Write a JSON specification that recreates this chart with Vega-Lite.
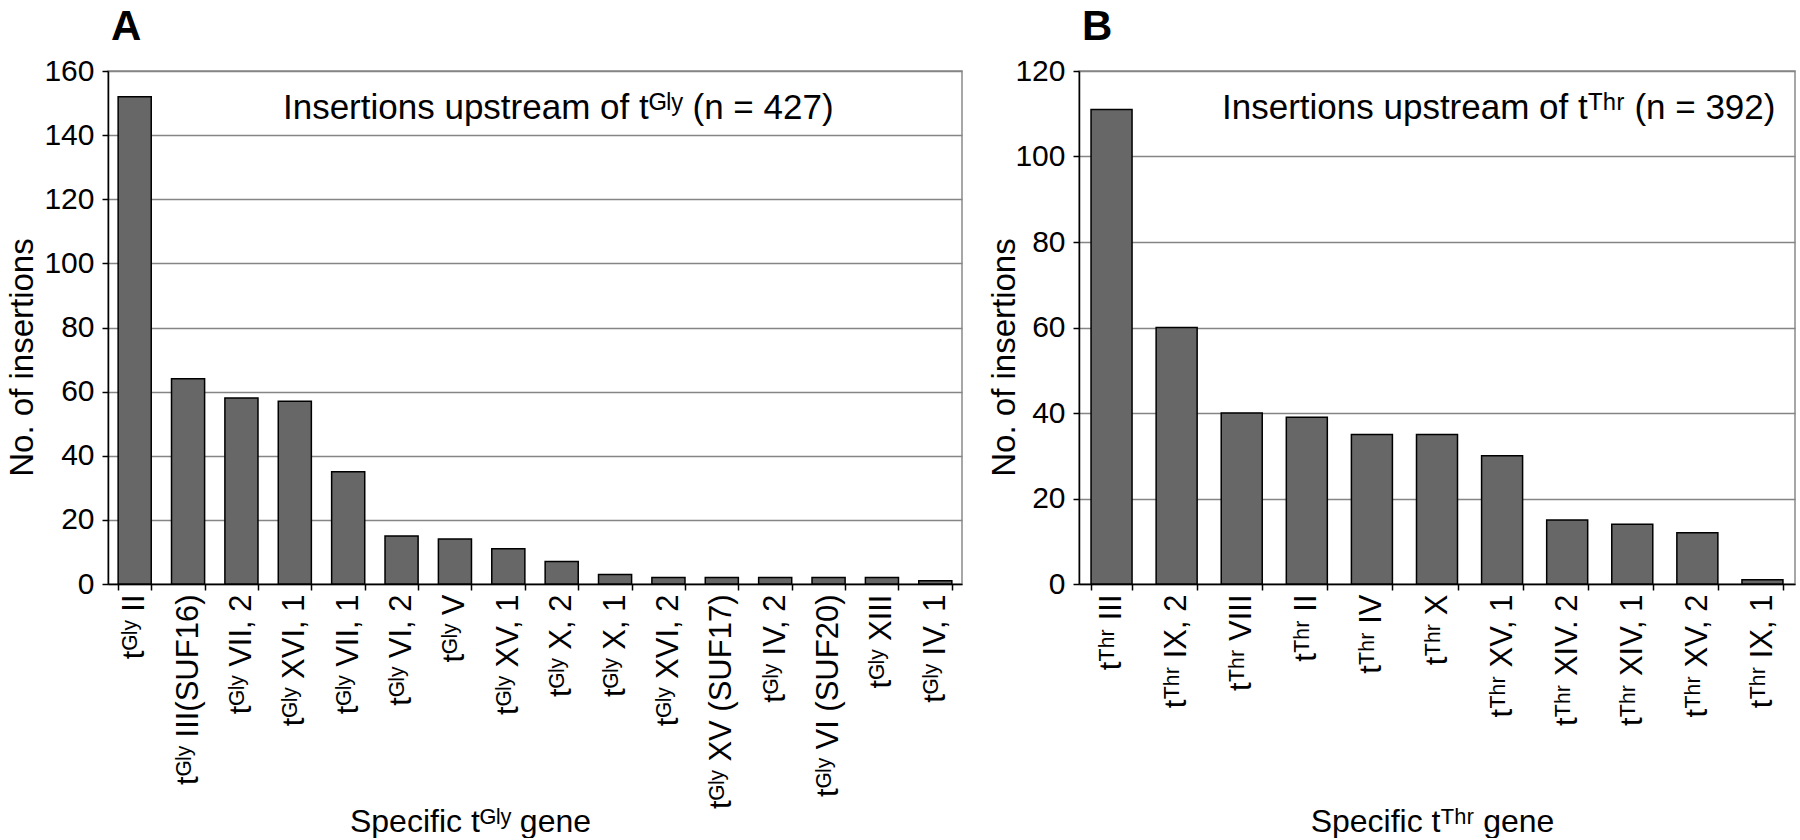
{
  "$schema": "https://vega.github.io/schema/vega-lite/v6.json",
  "background": "white",
  "padding": {"left": 5, "top": 5, "right": 5, "bottom": 0},
  "datasets": {
    "gly": [
      {"gene": "tᴳˡʸ II", "count": 152},
      {"gene": "tᴳˡʸ III(SUF16)", "count": 64},
      {"gene": "tᴳˡʸ VII, 2", "count": 58},
      {"gene": "tᴳˡʸ XVI, 1", "count": 57},
      {"gene": "tᴳˡʸ VII, 1", "count": 35},
      {"gene": "tᴳˡʸ VI, 2", "count": 15},
      {"gene": "tᴳˡʸ V", "count": 14},
      {"gene": "tᴳˡʸ XV, 1", "count": 11},
      {"gene": "tᴳˡʸ X, 2", "count": 7},
      {"gene": "tᴳˡʸ X, 1", "count": 3},
      {"gene": "tᴳˡʸ XVI, 2", "count": 2},
      {"gene": "tᴳˡʸ XV (SUF17)", "count": 2},
      {"gene": "tᴳˡʸ IV, 2", "count": 2},
      {"gene": "tᴳˡʸ VI (SUF20)", "count": 2},
      {"gene": "tᴳˡʸ XIII", "count": 2},
      {"gene": "tᴳˡʸ IV, 1", "count": 1}
    ],
    "thr": [
      {"gene": "tᵀʰʳ III", "count": 111},
      {"gene": "tᵀʰʳ IX, 2", "count": 60},
      {"gene": "tᵀʰʳ VIII", "count": 40},
      {"gene": "tᵀʰʳ II", "count": 39},
      {"gene": "tᵀʰʳ IV", "count": 35},
      {"gene": "tᵀʰʳ X", "count": 35},
      {"gene": "tᵀʰʳ XV, 1", "count": 30},
      {"gene": "tᵀʰʳ XIV. 2", "count": 15},
      {"gene": "tᵀʰʳ XIV, 1", "count": 14},
      {"gene": "tᵀʰʳ XV, 2", "count": 12},
      {"gene": "tᵀʰʳ IX, 1", "count": 1}
    ]
  },
  "config": {
    "font": "Liberation Sans",
    "view": {"stroke": "#8a8a8a", "strokeWidth": 1.5},
    "axis": {
      "labelColor": "black",
      "titleColor": "black",
      "titleFontWeight": "normal",
      "domainColor": "black",
      "domainWidth": 1.5,
      "tickColor": "black",
      "tickWidth": 1.5,
      "tickSize": 6,
      "gridColor": "#858585",
      "gridWidth": 1.5
    },
    "axisX": {
      "grid": false,
      "labelAngle": 270,
      "labelAlign": "right",
      "labelBaseline": "middle",
      "labelFontSize": 31,
      "labelPadding": 4,
      "labelLimit": 400,
      "tickBand": "extent",
      "titleFontSize": 32,
      "titleY": 247,
      "titleAlign": "center",
      "titleBaseline": "alphabetic"
    },
    "axisY": {
      "grid": true,
      "labelFontSize": 30,
      "labelPadding": 8,
      "titleFontSize": 33,
      "titleAngle": 270,
      "titleY": 286,
      "titleAlign": "center",
      "titleBaseline": "middle"
    },
    "title": {
      "anchor": "start",
      "frame": "group",
      "fontSize": 42,
      "fontWeight": "bold",
      "color": "black",
      "baseline": "alphabetic",
      "offset": 7,
      "dx": 3
    }
  },
  "bounds": "flush",
  "spacing": 117,
  "hconcat": [
    {
      "width": 854,
      "height": 513,
      "title": {"text": "A"},
      "encoding": {
        "x": {
          "field": "gene",
          "type": "nominal",
          "sort": null,
          "scale": {"paddingInner": 0.38, "paddingOuter": 0.19},
          "axis": {"title": "Specific tᴳˡʸ gene", "titleX": 362}
        },
        "y": {
          "field": "count",
          "type": "quantitative",
          "scale": {"domain": [0, 160], "nice": false},
          "axis": {"title": "No. of insertions", "values": [0, 20, 40, 60, 80, 100, 120, 140, 160], "titleX": -86}
        }
      },
      "layer": [
        {
          "data": {"name": "gly"},
          "mark": {"type": "bar", "fill": "#676767", "stroke": "black", "strokeWidth": 1.5}
        },
        {
          "data": {"values": [{"note": "Insertions upstream of tᴳˡʸ (n = 427)", "gene": "tᴳˡʸ VI (SUF20)", "count": 145}]},
          "mark": {"type": "text", "align": "right", "baseline": "alphabetic", "fontSize": 35, "dx": 5, "color": "black"},
          "encoding": {
            "text": {"field": "note"}
          }
        }
      ]
    },
    {
      "width": 716,
      "height": 513,
      "title": {"text": "B"},
      "encoding": {
        "x": {
          "field": "gene",
          "type": "nominal",
          "sort": null,
          "scale": {"paddingInner": 0.37, "paddingOuter": 0.185},
          "axis": {"title": "Specific tᵀʰʳ gene", "titleX": 353}
        },
        "y": {
          "field": "count",
          "type": "quantitative",
          "scale": {"domain": [0, 120], "nice": false},
          "axis": {"title": "No. of insertions", "values": [0, 20, 40, 60, 80, 100, 120], "titleX": -75}
        }
      },
      "layer": [
        {
          "data": {"name": "thr"},
          "mark": {"type": "bar", "fill": "#676767", "stroke": "black", "strokeWidth": 1.5}
        },
        {
          "data": {"values": [{"note": "Insertions upstream of tᵀʰʳ (n = 392)", "gene": "tᵀʰʳ IX, 1", "count": 108.8}]},
          "mark": {"type": "text", "align": "right", "baseline": "alphabetic", "fontSize": 35, "dx": 13, "color": "black"},
          "encoding": {
            "text": {"field": "note"}
          }
        }
      ]
    }
  ]
}
